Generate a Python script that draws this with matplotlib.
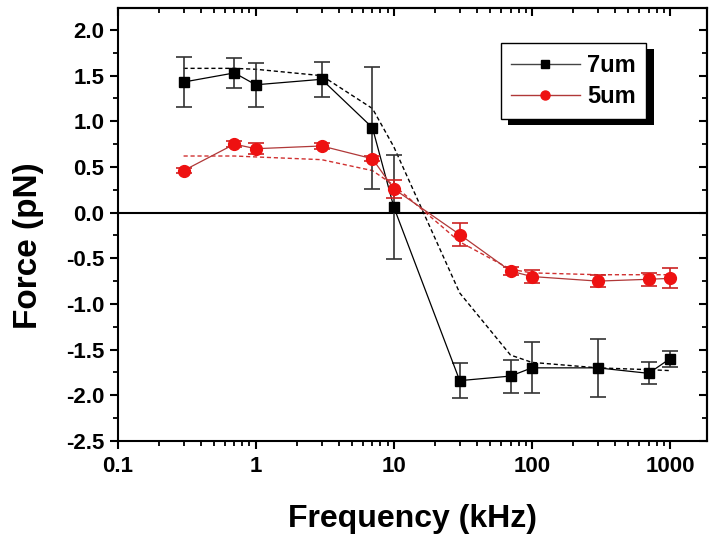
import numpy as np
import matplotlib
matplotlib.use('Agg')
import matplotlib.pyplot as plt
import matplotlib.patheffects as pe
from matplotlib.lines import Line2D
from matplotlib.ticker import MultipleLocator, LogLocator, FixedLocator, FixedFormatter

plt.rcParams['font.family'] = ['Liberation Sans', 'DejaVu Sans']
plt.rcParams['font.weight'] = 'bold'

# frequency (kHz)
freq = [0.3, 0.7, 1, 3, 7, 10, 30, 70, 100, 300, 700, 1000]

# 7um measured force and errors (pN)
f7 = [1.43, 1.53, 1.40, 1.46, 0.93, 0.06, -1.84, -1.79, -1.70, -1.70, -1.76, -1.60]
e7 = [0.27, 0.16, 0.24, 0.19, 0.67, 0.57, 0.19, 0.18, 0.28, 0.32, 0.12, 0.09]
fit7 = [1.58, 1.58, 1.57, 1.50, 1.14, 0.72, -0.88, -1.56, -1.64, -1.70, -1.72, -1.73]

# 5um measured force and errors (pN)
f5 = [0.46, 0.75, 0.70, 0.73, 0.59, 0.26, -0.24, -0.64, -0.70, -0.75, -0.73, -0.72]
e5 = [0.03, 0.03, 0.06, 0.03, 0.03, 0.10, 0.13, 0.04, 0.075, 0.07, 0.07, 0.11]
fit5 = [0.62, 0.62, 0.61, 0.58, 0.46, 0.30, -0.32, -0.62, -0.66, -0.68, -0.68, -0.68]

labels = ['7um', '5um']

fig = plt.figure(figsize=(7.09, 5.39), dpi=100)
ax = fig.add_axes([0.166, 0.182, 0.831, 0.803])

ax.axhline(0, color='black', lw=1.5, zorder=1)

ax.plot(freq, fit7, color='black', lw=1, ls=(0, (3, 2)), zorder=2)
ax.plot(freq, fit5, color='#d03030', lw=1, ls=(0, (3, 2)), zorder=2)

ax.errorbar(freq, f7, yerr=e7, color='black', lw=0.9, marker='s', ms=7.5,
            mfc='black', mec='black', ecolor='#333333', elinewidth=1.2,
            capsize=6, capthick=1.2, zorder=3)
ax.errorbar(freq, f5, yerr=e5, color='#b03838', lw=0.9, marker='o', ms=8.5,
            mfc='#ee1111', mec='#ee1111', ecolor='#cc2222', elinewidth=1.2,
            capsize=6, capthick=1.2, zorder=4)

ax.set_xscale('log')
ax.set_xlim(0.1, 1850)
ax.set_ylim(-2.5, 2.24)

ax.xaxis.set_major_locator(FixedLocator([0.1, 1, 10, 100, 1000]))
ax.xaxis.set_major_formatter(FixedFormatter(['0.1', '1', '10', '100', '1000']))
ax.xaxis.set_minor_locator(LogLocator(base=10, subs=np.arange(2, 10), numticks=20))
ax.yaxis.set_major_locator(MultipleLocator(0.5))
ax.yaxis.set_minor_locator(MultipleLocator(0.25))
ax.yaxis.set_major_formatter(matplotlib.ticker.FormatStrFormatter('%.1f'))

for s in ax.spines.values():
    s.set_linewidth(1.5)

ax.tick_params(axis='both', which='major', direction='out', length=6, width=1.5,
               labelsize=16, top=False, right=False)
ax.tick_params(axis='both', which='minor', direction='out', length=3.5, width=1.3,
               top=False, right=False)
ax.tick_params(axis='x', which='major', pad=5)

# inward ticks on the top and right spines
ax2 = ax.secondary_xaxis('top')
ax2.xaxis.set_major_locator(FixedLocator([0.1, 1, 10, 100, 1000]))
ax2.xaxis.set_minor_locator(LogLocator(base=10, subs=np.arange(2, 10), numticks=20))
ax2.tick_params(which='major', direction='in', length=6, width=1.5, labeltop=False)
ax2.tick_params(which='minor', direction='in', length=3.5, width=1.3)
ax3 = ax.secondary_yaxis('right')
ax3.yaxis.set_major_locator(MultipleLocator(0.5))
ax3.yaxis.set_minor_locator(MultipleLocator(0.25))
ax3.tick_params(which='major', direction='in', length=6, width=1.5, labelright=False)
ax3.tick_params(which='minor', direction='in', length=3.5, width=1.3)
for a in (ax2, ax3):
    for s in a.spines.values():
        s.set_linewidth(1.5)

ax.set_xlabel('Frequency (kHz)', fontsize=23, fontweight='bold', labelpad=19)
ax.set_ylabel('Force (pN)', fontsize=24, fontweight='bold')
ax.yaxis.set_label_coords(-0.125, 0.45)

handles = [
    Line2D([], [], color='#444444', lw=1, marker='s', ms=6, mfc='black', mec='black'),
    Line2D([], [], color='#b03838', lw=1, marker='o', ms=6.5, mfc='#ee1111', mec='#ee1111'),
]
leg = ax.legend(handles, labels, loc='upper right', bbox_to_anchor=(0.897, 0.919),
                borderaxespad=0, fontsize=17, frameon=True, fancybox=False,
                framealpha=1, edgecolor='black', handlelength=2.9, handletextpad=0.3,
                borderpad=0.45, labelspacing=0.35)
leg.get_frame().set_linewidth(1.0)
leg.get_frame().set_path_effects([
    pe.SimplePatchShadow(offset=(5.5, -4.5), shadow_rgbFace='black', alpha=1.0),
    pe.Normal()])

fig.savefig('out.png', dpi=100)
